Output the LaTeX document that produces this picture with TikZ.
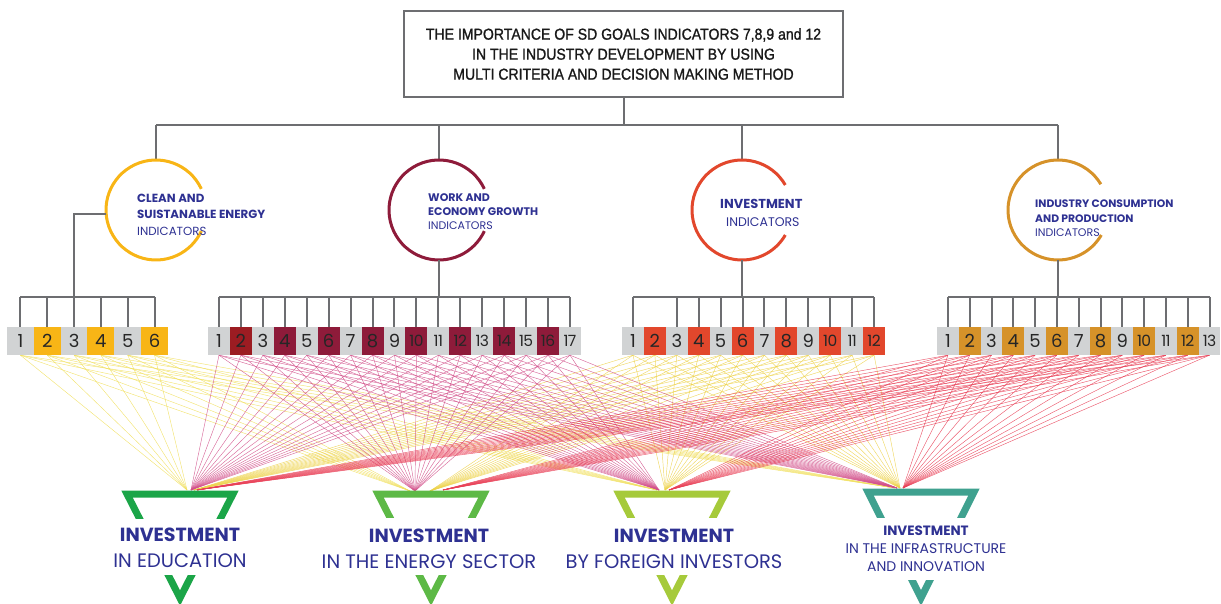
\documentclass[tikz,border=0pt]{standalone}
\usepackage{fontspec}
\setmainfont{Liberation Sans}
\newfontfamily\titlefont[FakeStretch=0.89,FakeBold=1.2]{Liberation Sans}
\newfontfamily\geo{Poppins}
\usetikzlibrary{calc}
\pgfdeclarelayer{bg}
\pgfsetlayers{bg,main}
\definecolor{gline}{HTML}{6D6E71}
\definecolor{boxgray}{HTML}{D1D3D4}
\definecolor{cyel}{HTML}{F8B516}
\definecolor{cmar}{HTML}{8E1B3A}
\definecolor{cmartwo}{HTML}{9C1C22}
\definecolor{cred}{HTML}{E2472C}
\definecolor{cocher}{HTML}{D69229}
\definecolor{navy}{HTML}{2E3192}
\definecolor{tgone}{HTML}{1BA548}
\definecolor{tgtwo}{HTML}{5DB946}
\definecolor{tgthree}{HTML}{A6CA3B}
\definecolor{tgfour}{HTML}{3FA18F}
\definecolor{fy}{HTML}{F0DF5C}
\definecolor{fp}{HTML}{D2508A}
\definecolor{fyy}{HTML}{EDD24A}
\definecolor{fr}{HTML}{E83E55}
\tikzset{
  conn/.style={draw=gline, line width=2pt},
  titlebox/.style={draw=gline, line width=2.2pt, minimum width=439pt, minimum height=86pt, align=center,
     font=\titlefont\fontsize{15.8}{20}\selectfont, text=black!90},
  ring/.style={line width=3pt},
  numbox/.style={inner sep=0pt, minimum height=28pt, text=black!85, font=\geo\fontsize{18}{18}\selectfont},
  lab/.style={inner sep=0pt, anchor=west, text=navy},
  labb/.style={lab, font=\geo\bfseries\fontsize{11}{11}\selectfont},
  labr/.style={lab, font=\geo\fontsize{11}{11}\selectfont},
  fan/.style={line width=0.45pt, opacity=0.85},
  tri/.style={line width=7pt, line join=miter},
  invb/.style={inner sep=0pt, text=navy, font=\geo\bfseries\fontsize{19}{19}\selectfont},
  invr/.style={inner sep=0pt, text=navy, font=\geo\fontsize{19.5}{19.5}\selectfont},
  invbs/.style={inner sep=0pt, text=navy, font=\geo\bfseries\fontsize{13.5}{13.5}\selectfont},
  invrs/.style={inner sep=0pt, text=navy, font=\geo\fontsize{14}{14}\selectfont},
}
\begin{document}
\begin{tikzpicture}[x=1pt,y=1pt]
\useasboundingbox (0,0) rectangle (1221,-604);
% title
\node[titlebox] (title) at (623.5,-54) {THE IMPORTANCE OF SD GOALS INDICATORS 7,8,9 and 12\\IN THE INDUSTRY DEVELOPMENT BY USING\\MULTI CRITERIA AND DECISION MAKING METHOD};
\coordinate (hub) at (623.5,-125);
\coordinate (c1) at (156,-210);
\coordinate (c2) at (439,-210);
\coordinate (c3) at (742,-210);
\coordinate (c4) at (1058,-210);
\coordinate (busy) at (0,-297);
\draw[conn] (title.south) -- (hub);
\draw[conn] (c1 |- hub) -- (c4 |- hub);
\foreach \k in {1,...,4}{\draw[conn] (c\k |- hub) -- ($(c\k)+(0,50)$);}
% rings
\draw[ring, cyel] ($(c1)+(25:50)$) arc[start angle=25, end angle=335, radius=50];
\draw[ring, cmar] ($(c2)+(25:50)$) arc[start angle=25, end angle=335, radius=50];
\draw[ring, cred] ($(c3)+(30:50)$) arc[start angle=30, end angle=330, radius=50];
\draw[ring, cocher] ($(c4)+(31:50)$) arc[start angle=31, end angle=330, radius=50];
% ring labels
\node[labb, font=\geo\bfseries\fontsize{11.8}{11.8}\selectfont] (l1a) at (137,-198) {CLEAN AND};
\node[labb, font=\geo\bfseries\fontsize{11.8}{11.8}\selectfont] (l1b) at (137,-214) {SUISTANABLE ENERGY};
\node[labr, font=\geo\fontsize{11.8}{11.8}\selectfont] (l1c) at (137,-231) {INDICATORS};
\node[labb] (l2a) at (428,-198) {WORK AND};
\node[labb] (l2b) at (428,-212) {ECONOMY GROWTH};
\node[labr] (l2c) at (428,-226) {INDICATORS};
\node[labb, font=\geo\bfseries\fontsize{13}{13}\selectfont] (l3a) at (720,-204) {INVESTMENT};
\node[labr, font=\geo\fontsize{12.5}{12.5}\selectfont] (l3b) at (726,-222) {INDICATORS};
\node[labb, font=\geo\bfseries\fontsize{10.8}{10.8}\selectfont] (l4a) at (1035,-204) {INDUSTRY CONSUMPTION};
\node[labb, font=\geo\bfseries\fontsize{10.8}{10.8}\selectfont] (l4b) at (1035,-219) {AND PRODUCTION};
\node[labr] (l4c) at (1035,-233) {INDICATORS};
% indicator boxes
\foreach \g/\n/\xo/\w/\col in {1/6/7/26.83/cyel, 2/17/208/21.94/cmar, 3/12/622/21.92/cred, 4/13/937/21.8/cocher}{
  \foreach \i in {1,...,\n}{
    \pgfmathtruncatemacro\odd{mod(\i,2)}
    \ifnum\odd=1 \def\fc{boxgray}\else \def\fc{\col}\fi
    \ifnum\g=2 \ifnum\i=2 \def\fc{cmartwo}\fi\fi
    \ifnum\i>9 \def\fs{\fontsize{15.5}{15.5}\selectfont\addfontfeature{LetterSpace=-4}}\else \def\fs{}\fi
    \node[numbox, minimum width=\w, fill=\fc] (g\g-\i) at ({\xo+\w*(\i-0.5)},-341) {\fs\i};
  }
}
% buses
\draw[conn] (c1)+(185:50) coordinate (c1w) -- (c1w -| g1-3) -- (g1-3 |- busy);
\draw[conn] ($(c2)-(0,50)$) -- (c2 |- busy);
\draw[conn] ($(c3)-(0,50)$) -- (c3 |- busy);
\draw[conn] ($(c4)-(0,50)$) -- (c4 |- busy);
\foreach \g/\n in {1/6,2/17,3/12,4/13}{
  \draw[conn] (g\g-1 |- busy) -- (g\g-\n |- busy);
  \foreach \i in {1,...,\n}{
    \ifnum\g=3 \ifnum\i=2 \else \draw[conn] (g\g-\i.north) -- (g\g-\i |- busy);\fi
    \else \draw[conn] (g\g-\i.north) -- (g\g-\i |- busy);\fi
  }
}
% convergence points
\coordinate (t1-1) at (187,-490); \coordinate (t1-2) at (191,-490); \coordinate (t1-3) at (194,-490); \coordinate (t1-4) at (197,-490);
\coordinate (t2-1) at (410,-491); \coordinate (t2-2) at (415,-491); \coordinate (t2-3) at (430,-491); \coordinate (t2-4) at (443,-490);
\coordinate (t3-1) at (657,-490); \coordinate (t3-2) at (659,-490); \coordinate (t3-3) at (665,-490); \coordinate (t3-4) at (669,-490);
\coordinate (t4-1) at (895,-488); \coordinate (t4-2) at (897,-488); \coordinate (t4-3) at (900,-488); \coordinate (t4-4) at (903,-488);
\begin{pgfonlayer}{bg}
\foreach \g/\n/\c in {1/6/fy,3/12/fyy,2/17/fp,4/13/fr}{
  \foreach \i in {1,...,\n}{
    \foreach \t in {1,...,4}{
      \draw[fan,\c] (g\g-\i.south) -- (t\t-\g);
    }
  }
}
\end{pgfonlayer}
% triangles
\draw[tri, tgone] (127,-494) -- (233,-494) -- (180,-598) -- cycle;
\draw[tri, tgtwo] (378,-494) -- (484,-494) -- (431,-598) -- cycle;
\draw[tri, tgthree] (619,-494) -- (725,-494) -- (672,-598) -- cycle;
\draw[tri, tgfour] (868,-492) -- (974,-492) -- (921,-598) -- cycle;
\fill[white] (110,-519) rectangle (250,-575);
\fill[white] (360,-518) rectangle (500,-575);
\fill[white] (600,-518) rectangle (745,-575);
\fill[white] (850,-518) rectangle (995,-580);
\node[invb] (i1a) at (180,-535) {INVESTMENT};
\node[invr] (i1b) at (180,-561) {IN EDUCATION};
\node[invb] (i2a) at (429,-536) {INVESTMENT};
\node[invr] (i2b) at (429,-562) {IN THE ENERGY SECTOR};
\node[invb] (i3a) at (674,-536) {INVESTMENT};
\node[invr] (i3b) at (674,-562) {BY FOREIGN INVESTORS};
\node[invbs] (i4a) at (926,-531) {INVESTMENT};
\node[invrs] (i4b) at (926,-549) {IN THE INFRASTRUCTURE};
\node[invrs] (i4c) at (926,-567) {AND INNOVATION};
\end{tikzpicture}
\end{document}
